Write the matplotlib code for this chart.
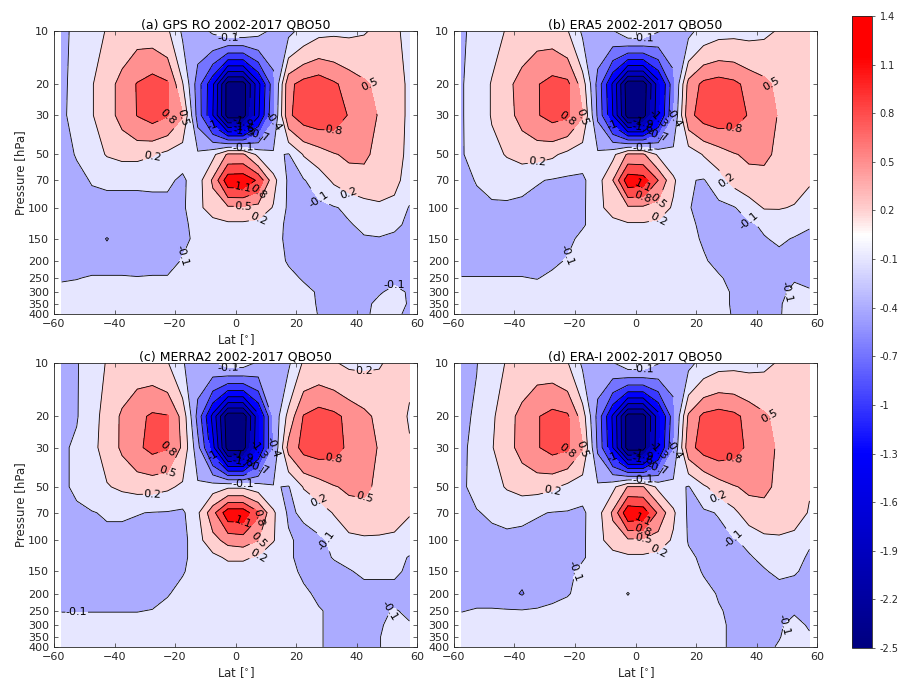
import numpy as np
import matplotlib.pyplot as plt
from matplotlib.colors import LinearSegmentedColormap, Normalize
from matplotlib.cm import ScalarMappable
from matplotlib.ticker import NullLocator

lat = [-57.5, -52.5, -47.5, -42.5, -37.5, -32.5, -27.5, -22.5, -17.5, -12.5, -7.5, -2.5,
       2.5, 7.5, 12.5, 17.5, 22.5, 27.5, 32.5, 37.5, 42.5, 47.5, 52.5, 57.5]
pressure = [10, 20, 30, 50, 70, 100, 125, 150, 200, 250, 300, 350, 400]
levels = [-2.5, -2.2, -1.9, -1.6, -1.3, -1.0, -0.7, -0.4, -0.1, 0.2, 0.5, 0.8, 1.1, 1.4]
yticks = [10, 20, 30, 50, 70, 100, 150, 200, 250, 300, 350, 400]
xticks = [-60, -40, -20, 0, 20, 40, 60]

gps_ro = [
    [-0.15, -0.05, 0.08, 0.22, 0.32, 0.38, 0.35, 0.25, -0.15, -0.22, -0.05, 0.12,
     0.12, 0.0, -0.16, -0.18, 0.0, 0.12, 0.15, 0.15, 0.18, 0.25, 0.25, 0.12],
    [-0.15, -0.02, 0.18, 0.38, 0.6, 0.82, 0.95, 0.85, 0.22, -0.55, -1.25, -2.35,
     -2.35, -1.4, -0.52, 0.72, 0.92, 1.0, 0.85, 0.68, 0.55, 0.42, 0.32, 0.15],
    [-0.15, 0.0, 0.18, 0.38, 0.6, 0.81, 0.92, 0.82, 0.52, -0.52, -1.3, -2.35,
     -2.35, -1.35, -0.45, 0.75, 0.95, 1.0, 0.95, 0.78, 0.62, 0.48, 0.32, 0.15],
    [-0.2, -0.08, 0.08, 0.22, 0.28, 0.28, 0.22, 0.12, 0.02, -0.05, 0.12, 0.55,
     0.55, 0.12, -0.05, -0.12, 0.22, 0.35, 0.48, 0.55, 0.55, 0.42, 0.28, 0.15],
    [-0.25, -0.18, -0.08, -0.05, -0.05, -0.05, -0.05, -0.05, -0.15, 0.06, 0.55, 1.3,
     1.32, 1.05, 0.3, -0.15, -0.12, 0.05, 0.25, 0.38, 0.4, 0.35, 0.28, 0.08],
    [-0.2, -0.2, -0.2, -0.2, -0.2, -0.2, -0.18, -0.18, -0.15, 0.12, 0.35, 0.45,
     0.45, 0.4, 0.18, -0.15, -0.2, -0.18, -0.12, -0.05, 0.08, 0.15, 0.12, -0.12],
    [-0.2, -0.22, -0.2, -0.2, -0.2, -0.2, -0.2, -0.2, -0.15, -0.02, 0.08, 0.14,
     0.14, 0.1, 0.0, -0.15, -0.2, -0.2, -0.18, -0.12, -0.05, 0.02, -0.05, -0.15],
    [-0.2, -0.22, -0.22, -0.42, -0.22, -0.2, -0.2, -0.2, -0.15, -0.05, 0.0, 0.05,
     0.05, 0.02, -0.02, -0.15, -0.2, -0.2, -0.2, -0.2, -0.12, -0.12, -0.15, -0.2],
    [-0.2, -0.2, -0.2, -0.2, -0.2, -0.2, -0.2, -0.2, -0.08, -0.02, 0.0, 0.0,
     0.0, 0.0, -0.02, -0.12, -0.2, -0.2, -0.2, -0.2, -0.2, -0.2, -0.2, -0.2],
    [-0.13, -0.11, -0.08, -0.08, -0.08, -0.09, -0.08, -0.08, -0.05, 0.0, 0.0, 0.0,
     0.0, 0.0, 0.0, -0.05, -0.12, -0.15, -0.2, -0.2, -0.2, -0.2, -0.15, -0.15],
    [-0.02, -0.02, -0.02, -0.02, -0.02, -0.02, -0.02, -0.02, -0.02, 0.0, 0.0, 0.0,
     0.0, 0.0, 0.0, 0.0, -0.05, -0.12, -0.15, -0.15, -0.15, -0.12, -0.05, -0.12],
    [0.0, 0.0, 0.0, 0.0, 0.0, 0.0, 0.0, 0.0, 0.0, 0.0, 0.0, 0.0,
     0.0, 0.0, 0.0, 0.0, -0.02, -0.12, -0.15, -0.15, -0.15, -0.05, -0.02, -0.12],
    [0.0, 0.0, 0.0, 0.0, 0.0, 0.0, 0.0, 0.0, 0.0, 0.0, 0.0, 0.0,
     0.0, 0.0, 0.0, 0.0, 0.0, -0.11, -0.15, -0.15, -0.15, -0.02, -0.05, -0.15],
]

era5 = [
    [-0.15, 0.0, 0.1, 0.22, 0.32, 0.38, 0.35, 0.22, -0.15, -0.22, -0.12, 0.15,
     0.15, -0.08, -0.22, -0.18, 0.02, 0.1, 0.12, 0.12, 0.15, 0.22, 0.28, 0.25],
    [-0.12, 0.02, 0.22, 0.42, 0.62, 0.78, 0.92, 0.88, 0.35, -0.5, -1.35, -2.4,
     -2.4, -1.45, -0.5, 0.6, 0.88, 0.95, 0.88, 0.7, 0.58, 0.42, 0.3, 0.22],
    [-0.12, 0.02, 0.22, 0.4, 0.6, 0.78, 0.9, 0.85, 0.52, -0.45, -1.3, -2.35,
     -2.35, -1.4, -0.42, 0.72, 0.92, 0.98, 0.92, 0.78, 0.62, 0.48, 0.35, 0.22],
    [-0.12, 0.0, 0.12, 0.22, 0.3, 0.3, 0.25, 0.12, 0.02, -0.05, 0.12, 0.55,
     0.55, 0.15, 0.0, 0.02, 0.22, 0.35, 0.48, 0.55, 0.55, 0.45, 0.32, 0.22],
    [-0.2, -0.08, 0.0, 0.02, 0.0, -0.08, -0.12, -0.15, -0.15, 0.08, 0.5, 1.3,
     1.25, 0.8, 0.25, -0.08, -0.12, 0.08, 0.3, 0.4, 0.42, 0.4, 0.32, 0.22],
    [-0.2, -0.2, -0.15, -0.15, -0.18, -0.2, -0.2, -0.2, -0.15, 0.1, 0.35, 0.45,
     0.45, 0.38, 0.16, -0.08, -0.2, -0.18, -0.12, 0.05, 0.22, 0.22, 0.18, 0.12],
    [-0.2, -0.2, -0.2, -0.2, -0.2, -0.2, -0.2, -0.2, -0.12, -0.02, 0.08, 0.16,
     0.16, 0.12, 0.0, -0.05, -0.15, -0.2, -0.2, -0.15, -0.05, 0.0, 0.02, -0.08],
    [-0.2, -0.2, -0.2, -0.2, -0.2, -0.2, -0.2, -0.15, -0.05, 0.0, 0.02, 0.05,
     0.05, 0.02, 0.0, -0.05, -0.12, -0.2, -0.2, -0.2, -0.12, -0.05, -0.12, -0.15],
    [-0.2, -0.2, -0.2, -0.2, -0.2, -0.2, -0.15, -0.08, -0.02, 0.0, 0.0, 0.0,
     0.0, 0.0, 0.0, -0.02, -0.08, -0.15, -0.2, -0.2, -0.2, -0.2, -0.2, -0.2],
    [-0.09, -0.09, -0.09, -0.09, -0.09, -0.11, -0.05, -0.02, 0.0, 0.0, 0.0, 0.0,
     0.0, 0.0, 0.0, 0.0, -0.02, -0.08, -0.15, -0.2, -0.2, -0.2, -0.12, -0.15],
    [0.0, 0.0, 0.0, 0.0, 0.0, 0.0, 0.0, 0.0, 0.0, 0.0, 0.0, 0.0,
     0.0, 0.0, 0.0, 0.0, 0.0, -0.05, -0.12, -0.15, -0.15, -0.15, -0.05, -0.08],
    [0.0, 0.0, 0.0, 0.0, 0.0, 0.0, 0.0, 0.0, 0.0, 0.0, 0.0, 0.0,
     0.0, 0.0, 0.0, 0.0, 0.0, -0.05, -0.12, -0.15, -0.15, -0.12, -0.02, -0.05],
    [0.0, 0.0, 0.0, 0.0, 0.0, 0.0, 0.0, 0.0, 0.0, 0.0, 0.0, 0.0,
     0.0, 0.0, 0.0, 0.0, 0.0, -0.02, -0.12, -0.15, -0.15, -0.12, 0.0, -0.02],
]

merra2 = [
    [-0.2, -0.12, 0.05, 0.22, 0.3, 0.35, 0.32, 0.22, -0.08, -0.25, -0.15, 0.05,
     0.05, -0.15, -0.25, -0.15, 0.24, 0.28, 0.22, 0.15, 0.15, 0.18, 0.26, 0.24],
    [-0.2, -0.12, 0.1, 0.3, 0.55, 0.72, 0.85, 0.82, 0.4, -0.5, -1.4, -2.4,
     -2.4, -1.4, -0.35, 0.3, 0.82, 0.95, 0.88, 0.72, 0.58, 0.42, 0.3, 0.18],
    [-0.15, -0.05, 0.12, 0.32, 0.55, 0.75, 0.88, 0.82, 0.45, -0.3, -1.2, -2.35,
     -2.35, -1.35, -0.4, 0.6, 0.9, 0.95, 0.9, 0.75, 0.62, 0.48, 0.35, 0.22],
    [-0.15, -0.05, 0.12, 0.18, 0.25, 0.3, 0.3, 0.25, 0.15, -0.05, 0.05, 0.15,
     0.15, 0.05, -0.08, -0.12, 0.22, 0.35, 0.48, 0.55, 0.55, 0.45, 0.32, 0.22],
    [-0.2, -0.15, -0.12, -0.06, -0.06, -0.09, -0.11, -0.12, -0.15, 0.15, 0.7, 1.3,
     1.3, 0.85, 0.25, -0.15, -0.05, 0.05, 0.22, 0.38, 0.42, 0.38, 0.3, 0.22],
    [-0.2, -0.2, -0.2, -0.2, -0.2, -0.2, -0.2, -0.2, -0.2, 0.1, 0.4, 0.6,
     0.65, 0.5, 0.22, -0.05, -0.2, -0.15, -0.05, 0.12, 0.15, 0.15, 0.15, 0.05],
    [-0.2, -0.2, -0.2, -0.2, -0.2, -0.2, -0.2, -0.2, -0.15, 0.0, 0.12, 0.25,
     0.25, 0.16, 0.0, -0.05, -0.2, -0.2, -0.08, -0.02, 0.0, 0.0, 0.0, -0.12],
    [-0.2, -0.2, -0.2, -0.2, -0.2, -0.2, -0.2, -0.2, -0.12, 0.0, 0.02, 0.05,
     0.05, 0.02, 0.0, -0.02, -0.15, -0.2, -0.2, -0.12, -0.05, -0.05, -0.05, -0.15],
    [-0.2, -0.2, -0.2, -0.2, -0.2, -0.2, -0.2, -0.12, -0.02, 0.0, 0.0, 0.0,
     0.0, 0.0, 0.0, 0.0, -0.05, -0.15, -0.2, -0.2, -0.2, -0.2, -0.2, -0.2],
    [-0.11, -0.11, -0.11, -0.11, -0.11, -0.11, -0.09, -0.02, 0.0, 0.0, 0.0, 0.0,
     0.0, 0.0, 0.0, 0.0, 0.0, -0.08, -0.15, -0.2, -0.2, -0.15, -0.08, -0.15],
    [0.0, 0.0, 0.0, 0.0, 0.0, 0.0, 0.0, 0.0, 0.0, 0.0, 0.0, 0.0,
     0.0, 0.0, 0.0, 0.0, 0.0, -0.08, -0.15, -0.15, -0.15, -0.12, -0.05, -0.08],
    [0.0, 0.0, 0.0, 0.0, 0.0, 0.0, 0.0, 0.0, 0.0, 0.0, 0.0, 0.0,
     0.0, 0.0, 0.0, 0.0, 0.0, -0.08, -0.15, -0.15, -0.15, -0.11, 0.0, 0.0],
    [0.0, 0.0, 0.0, 0.0, 0.0, 0.0, 0.0, 0.0, 0.0, 0.0, 0.0, 0.0,
     0.0, 0.0, 0.0, 0.0, 0.0, -0.08, -0.15, -0.15, -0.15, -0.11, 0.0, 0.0],
]

era_i = [
    [-0.2, -0.11, 0.08, 0.22, 0.3, 0.36, 0.33, 0.22, -0.15, -0.25, -0.12, 0.12,
     0.12, -0.08, -0.25, -0.18, 0.0, 0.1, 0.12, 0.12, 0.15, 0.22, 0.28, 0.25],
    [-0.18, -0.05, 0.15, 0.38, 0.6, 0.78, 0.9, 0.85, 0.35, -0.5, -1.35, -2.35,
     -2.35, -1.45, -0.52, 0.55, 0.88, 0.95, 0.88, 0.7, 0.55, 0.4, 0.3, 0.21],
    [-0.15, -0.02, 0.18, 0.4, 0.6, 0.78, 0.9, 0.85, 0.52, -0.45, -1.3, -2.35,
     -2.35, -1.4, -0.42, 0.7, 0.92, 0.98, 0.9, 0.75, 0.6, 0.46, 0.32, 0.21],
    [-0.15, 0.0, 0.12, 0.22, 0.3, 0.3, 0.25, 0.12, 0.02, -0.05, 0.12, 0.52,
     0.52, 0.12, 0.0, -0.12, 0.15, 0.35, 0.48, 0.55, 0.55, 0.45, 0.32, 0.22],
    [-0.2, -0.12, -0.05, 0.02, -0.02, -0.08, -0.11, -0.12, -0.15, 0.08, 0.55, 1.35,
     1.3, 0.75, 0.25, -0.15, -0.15, -0.08, 0.12, 0.38, 0.42, 0.38, 0.32, 0.18],
    [-0.2, -0.2, -0.2, -0.2, -0.2, -0.2, -0.2, -0.2, -0.15, 0.1, 0.35, 0.45,
     0.45, 0.36, 0.16, -0.12, -0.2, -0.2, -0.12, -0.05, 0.12, 0.15, 0.12, -0.08],
    [-0.2, -0.2, -0.2, -0.2, -0.2, -0.2, -0.2, -0.2, -0.12, -0.02, 0.08, 0.14,
     0.14, 0.1, 0.0, -0.05, -0.15, -0.2, -0.2, -0.12, -0.05, 0.0, -0.05, -0.12],
    [-0.2, -0.2, -0.2, -0.2, -0.28, -0.2, -0.2, -0.15, -0.05, 0.0, 0.02, 0.05,
     0.05, 0.02, 0.0, 0.0, -0.12, -0.2, -0.2, -0.2, -0.12, -0.05, -0.08, -0.15],
    [-0.2, -0.2, -0.2, -0.28, -0.43, -0.2, -0.2, -0.12, -0.02, 0.0, 0.0, -0.11,
     0.0, 0.0, 0.0, 0.0, -0.02, -0.12, -0.2, -0.2, -0.2, -0.2, -0.2, -0.2],
    [-0.11, -0.08, -0.08, -0.08, -0.08, -0.08, -0.02, 0.0, 0.0, 0.0, 0.0, 0.0,
     0.0, 0.0, 0.0, 0.0, 0.0, -0.08, -0.15, -0.2, -0.2, -0.15, -0.12, -0.15],
    [0.0, 0.0, 0.0, 0.0, 0.0, 0.0, 0.0, 0.0, 0.0, 0.0, 0.0, 0.0,
     0.0, 0.0, 0.0, 0.0, 0.0, -0.05, -0.15, -0.15, -0.15, -0.12, -0.05, -0.12],
    [0.0, 0.0, 0.0, 0.0, 0.0, 0.0, 0.0, 0.0, 0.0, 0.0, 0.0, 0.0,
     0.0, 0.0, 0.0, 0.0, 0.0, -0.05, -0.15, -0.15, -0.15, -0.11, -0.02, -0.08],
    [0.0, 0.0, 0.0, 0.0, 0.0, 0.0, 0.0, 0.0, 0.0, 0.0, 0.0, 0.0,
     0.0, 0.0, 0.0, 0.0, 0.0, -0.05, -0.15, -0.15, -0.15, -0.08, 0.0, -0.05],
]

titles = ["(a) GPS RO 2002-2017 QBO50", "(b) ERA5 2002-2017 QBO50",
          "(c) MERRA2 2002-2017 QBO50", "(d) ERA-I 2002-2017 QBO50"]

# navy -> blue -> white -> red, like the MATLAB map
vmin, vmax = levels[0], levels[-1]
nodes = [(-2.5, (0, 0, 0.5)), (-1.3, (0, 0, 1)), (-0.1, (0.9, 0.9, 1)),
         (0.05, (1, 1, 1)), (0.2, (1, 0.82, 0.82)), (1.15, (1, 0, 0)),
         (1.4, (1, 0, 0))]
cmap = LinearSegmentedColormap.from_list(
    "qbo", [((v - vmin) / (vmax - vmin), c) for v, c in nodes])
norm = Normalize(vmin, vmax)
band_colors = [cmap(norm(v)) for v in levels[:-1]]

txt = "#262626"


def draw_panel(ax, field, title, ylabel=True, xlabel=True):
    z = np.array(field)
    ax.contourf(lat, pressure, z, levels=levels, colors=band_colors)
    cs = ax.contour(lat, pressure, z, levels=levels, colors="k",
                    linewidths=0.6, linestyles="solid")
    ax.clabel(cs, fmt="%g", fontsize=8, inline=True, inline_spacing=1)
    ax.set_yscale("log")
    ax.set_ylim(400, 10)
    ax.set_xlim(-60, 60)
    ax.set_yticks(yticks)
    ax.set_yticklabels([str(t) for t in yticks])
    ax.yaxis.set_minor_locator(NullLocator())
    ax.set_xticks(xticks)
    ax.tick_params(direction="in", top=True, right=True, length=3, width=0.5,
                   labelsize=8, colors=txt)
    for s in ax.spines.values():
        s.set_linewidth(0.6)
        s.set_color(txt)
    ax.set_title(title, fontsize=9, pad=2)
    if ylabel:
        ax.set_ylabel("Pressure [hPa]", fontsize=8.5, color=txt, labelpad=1)
    if xlabel:
        ax.set_xlabel("Lat [$^{\\circ}$]", fontsize=8.5, color=txt, labelpad=2)


fig = plt.figure(figsize=(8.99, 6.86), dpi=100)
ax_a = fig.add_axes([0.0601, 0.5423, 0.4038, 0.4125])
ax_b = fig.add_axes([0.5050, 0.5423, 0.4038, 0.4125])
ax_c = fig.add_axes([0.0601, 0.0569, 0.4038, 0.4140])
ax_d = fig.add_axes([0.5050, 0.0569, 0.4038, 0.4140])

draw_panel(ax_a, gps_ro, titles[0])
draw_panel(ax_b, era5, titles[1], ylabel=False, xlabel=False)
draw_panel(ax_c, merra2, titles[2])
draw_panel(ax_d, era_i, titles[3], ylabel=False)

cax = fig.add_axes([0.9477, 0.0554, 0.0222, 0.9213])
cb = fig.colorbar(ScalarMappable(norm=norm, cmap=cmap), cax=cax, ticks=levels)
cb.ax.set_yticklabels(["%g" % v for v in levels])
cb.ax.tick_params(labelsize=7, length=2, width=0.5, colors=txt)
cb.outline.set_linewidth(0.6)
cb.outline.set_edgecolor(txt)

fig.savefig("out.png", dpi=100)
